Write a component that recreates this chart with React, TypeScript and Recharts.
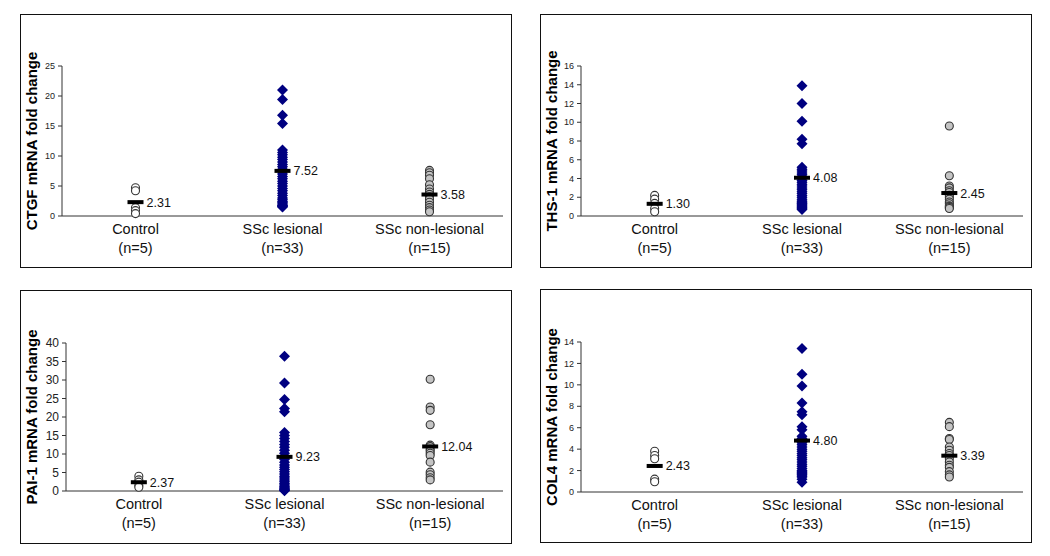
import React from 'react';
import { ScatterChart, Scatter, XAxis, YAxis } from 'recharts';

const groups = ['Control', 'SSc lesional', 'SSc non-lesional'];
const groupN = ['(n=5)', '(n=33)', '(n=15)'];

// CTGF
const ctgfControl = [4.7, 4.2, 1.4, 0.9, 0.4];
const ctgfLesional = [
  21.0, 19.4, 16.8, 15.4, 11.0, 10.6, 10.2, 9.8, 9.4, 9.0, 8.6, 8.2, 7.8, 7.4, 7.0, 6.6, 6.2,
  5.8, 5.4, 5.0, 4.6, 4.2, 3.8, 3.4, 3.0, 2.7, 2.4, 2.2, 2.0, 1.8, 1.7, 1.6, 1.5,
];
const ctgfNonLesional = [7.6, 7.2, 6.8, 6.2, 5.2, 4.5, 4.0, 3.6, 3.2, 2.8, 2.3, 1.8, 1.4, 1.0, 0.7];
const ctgfMeans = [2.31, 7.52, 3.58];
const ctgfTicks = [0, 5, 10, 15, 20, 25];

// THS-1
const thsControl = [2.2, 1.8, 1.35, 0.8, 0.45];
const thsLesional = [
  13.9, 12.0, 10.1, 8.2, 7.7, 5.2, 5.0, 4.8, 4.6, 4.4, 4.2, 4.0, 3.8, 3.6, 3.4, 3.2, 3.0, 2.8,
  2.6, 2.4, 2.2, 2.0, 1.8, 1.6, 1.5, 1.4, 1.3, 1.2, 1.1, 1.0, 0.9, 0.8, 0.7,
];
const thsNonLesional = [9.6, 4.3, 3.2, 3.0, 2.7, 2.5, 2.2, 2.0, 1.8, 1.5, 1.3, 1.1, 1.0, 0.9, 0.8];
const thsMeans = [1.3, 4.08, 2.45];
const thsTicks = [0, 2, 4, 6, 8, 10, 12, 14, 16];

// PAI-1
const paiControl = [4.0, 3.0, 2.4, 1.5, 1.0];
const paiLesional = [
  36.4, 29.2, 24.7, 22.3, 21.4, 15.8, 15.0, 14.2, 13.4, 12.6, 11.8, 11.0, 10.2, 9.4, 8.6, 7.8,
  7.0, 6.4, 5.8, 5.2, 4.6, 4.0, 3.5, 3.0, 2.5, 2.0, 1.6, 1.2, 0.9, 0.6, 0.4, 0.2, 0.1,
];
const paiNonLesional = [30.2, 22.7, 21.8, 17.9, 12.4, 12.0, 11.3, 10.8, 10.2, 9.6, 7.8, 5.1, 4.4, 3.6, 3.0];
const paiMeans = [2.37, 9.23, 12.04];
const paiTicks = [0, 5, 10, 15, 20, 25, 30, 35, 40];

// COL4
const colControl = [3.8, 3.4, 3.1, 1.2, 0.95];
const colLesional = [
  13.4, 11.0, 9.9, 8.3, 7.5, 7.2, 6.1, 5.8, 5.2, 5.0, 4.8, 4.6, 4.4, 4.2, 4.0, 3.8, 3.6, 3.4,
  3.2, 3.0, 2.8, 2.6, 2.4, 2.2, 2.0, 1.9, 1.8, 1.7, 1.6, 1.5, 1.4, 1.2, 0.9,
];
const colNonLesional = [6.5, 6.1, 5.0, 4.9, 4.2, 3.9, 3.6, 3.4, 3.1, 2.8, 2.5, 2.3, 1.9, 1.6, 1.4];
const colMeans = [2.43, 4.8, 3.39];
const colTicks = [0, 2, 4, 6, 8, 10, 12, 14];

const FONT = '"Liberation Sans", Arial, sans-serif';
const BOX_W = 492;
const BOX_H = 254;

const toPoints = (vals: number[], g: number) => vals.map((v) => ({ x: g, y: v }));

const OpenCircle = (p: any) => (
  <circle cx={p.cx} cy={p.cy} r={4} fill="#fff" stroke="#333" strokeWidth={1.1} />
);
const GrayCircle = (p: any) => (
  <circle cx={p.cx} cy={p.cy} r={4} fill="#c4c4c4" stroke="#333" strokeWidth={1.1} />
);
const Diamond = (p: any) => (
  <polygon
    points={`${p.cx},${p.cy - 5.5} ${p.cx + 5.5},${p.cy} ${p.cx},${p.cy + 5.5} ${p.cx - 5.5},${p.cy}`}
    fill="#000080"
  />
);
const MeanMark = (p: any) => (
  <g>
    <rect x={p.cx - 8} y={p.cy - 2} width={16} height={4} fill="#000" />
    <text x={p.cx + 11} y={p.cy + 4.5} fontSize={12.5} fill="#111" fontFamily={FONT}>
      {p.payload.label}
    </text>
  </g>
);

const GroupTick = ({ x, y, payload }: any) => (
  <text x={x} y={y} textAnchor="middle" fontSize={14.5} fill="#111" fontFamily={FONT}>
    <tspan x={x} dy={10}>{groups[payload.value]}</tspan>
    <tspan x={x} dy={19}>{groupN[payload.value]}</tspan>
  </text>
);

type PanelProps = {
  left: number;
  top: number;
  title: string;
  ticks: number[];
  tickFont: number;
  axisWidth: number;
  plotTop: number;
  plotBottom: number;
  control: number[];
  lesional: number[];
  nonLesional: number[];
  means: number[];
};

function Panel(props: PanelProps) {
  const { left, top, title, ticks, tickFont, axisWidth, plotTop, plotBottom } = props;
  const w = BOX_W - 2;
  const h = BOX_H - 2;
  const xAxisH = 45;
  const meanData = props.means.map((m, i) => ({ x: i, y: m, label: m.toFixed(2) }));
  return (
    <div
      style={{
        position: 'absolute',
        left,
        top,
        width: w,
        height: h,
        border: '1px solid #111',
        background: '#fff',
      }}
    >
      <ScatterChart
        width={w}
        height={h}
        margin={{ top: plotTop, right: w - 482, bottom: h - plotBottom - xAxisH, left: 0 }}
      >
        <XAxis
          type="number"
          dataKey="x"
          domain={[-0.5, 2.5]}
          ticks={[0, 1, 2]}
          interval={0}
          height={xAxisH}
          tickLine={false}
          axisLine={{ stroke: '#333', strokeWidth: 1 }}
          tick={<GroupTick />}
        />
        <YAxis
          type="number"
          dataKey="y"
          width={axisWidth}
          domain={[0, ticks[ticks.length - 1]]}
          ticks={ticks}
          interval={0}
          tickSize={4}
          tickMargin={3}
          tickLine={{ stroke: '#333' }}
          axisLine={{ stroke: '#333', strokeWidth: 1 }}
          tick={{ fontSize: tickFont, fill: '#222', fontFamily: FONT }}
          label={{
            value: title,
            content: (lp: any) => {
              const vb = lp.viewBox || { x: 0, y: 0, width: 0, height: 0 };
              const cx = vb.x + 10;
              const cy = vb.y + vb.height / 2;
              return (
                <text
                  x={cx}
                  y={cy}
                  transform={`rotate(-90, ${cx}, ${cy})`}
                  textAnchor="middle"
                  dominantBaseline="central"
                  fontSize={15}
                  fontWeight="bold"
                  fill="#000"
                  fontFamily={FONT}
                >
                  {title}
                </text>
              );
            },
          }}
        />
        <Scatter data={toPoints(props.control, 0)} shape={OpenCircle} isAnimationActive={false} />
        <Scatter data={toPoints(props.lesional, 1)} shape={Diamond} isAnimationActive={false} />
        <Scatter data={toPoints(props.nonLesional, 2)} shape={GrayCircle} isAnimationActive={false} />
        <Scatter data={meanData} shape={MeanMark} isAnimationActive={false} />
      </ScatterChart>
    </div>
  );
}

export default function App() {
  return (
    <div style={{ position: 'absolute', left: 0, top: 0, width: 1050, height: 556, background: '#fff' }}>
      <Panel
        left={20}
        top={14}
        title="CTGF mRNA fold change"
        ticks={ctgfTicks}
        tickFont={9}
        axisWidth={41}
        plotTop={51}
        plotBottom={201}
        control={ctgfControl}
        lesional={ctgfLesional}
        nonLesional={ctgfNonLesional}
        means={ctgfMeans}
      />
      <Panel
        left={540}
        top={14}
        title="THS-1 mRNA fold change"
        ticks={thsTicks}
        tickFont={9}
        axisWidth={40}
        plotTop={51}
        plotBottom={201}
        control={thsControl}
        lesional={thsLesional}
        nonLesional={thsNonLesional}
        means={thsMeans}
      />
      <Panel
        left={20}
        top={290}
        title="PAI-1 mRNA fold change"
        ticks={paiTicks}
        tickFont={12}
        axisWidth={45}
        plotTop={52}
        plotBottom={200}
        control={paiControl}
        lesional={paiLesional}
        nonLesional={paiNonLesional}
        means={paiMeans}
      />
      <Panel
        left={540}
        top={289}
        title="COL4 mRNA fold change"
        ticks={colTicks}
        tickFont={9}
        axisWidth={40}
        plotTop={52}
        plotBottom={202}
        control={colControl}
        lesional={colLesional}
        nonLesional={colNonLesional}
        means={colMeans}
      />
    </div>
  );
}
